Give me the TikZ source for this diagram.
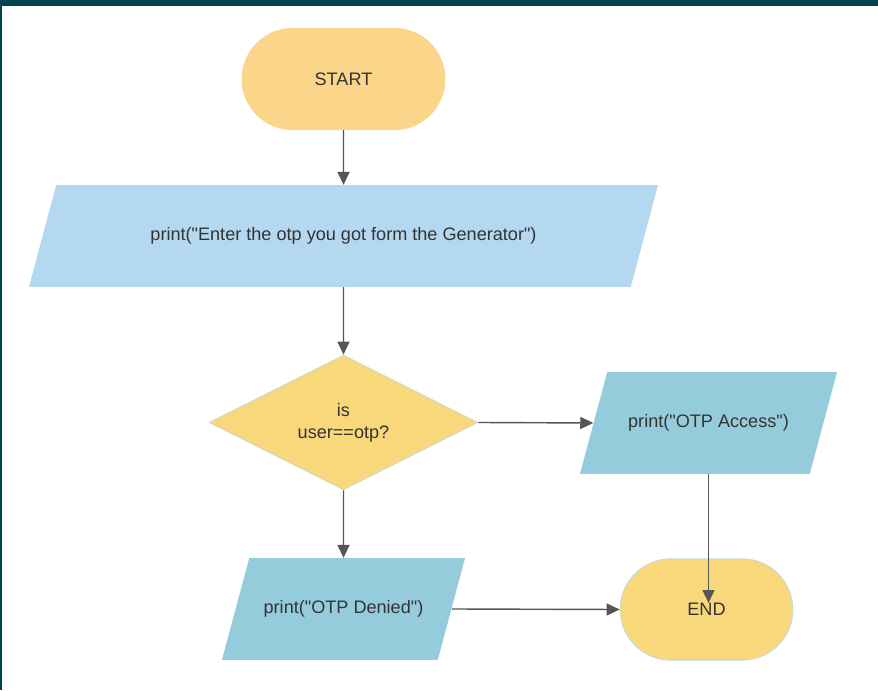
\documentclass[tikz,border=0pt]{standalone}
\usepackage{fontspec}
\setmainfont{Liberation Sans}
\usetikzlibrary{shapes.geometric, shapes.misc, arrows.meta}
\definecolor{frameteal}{HTML}{00444F}
\definecolor{startorange}{HTML}{FBD589}
\definecolor{endyellow}{HTML}{F9D87B}
\definecolor{paleblue}{HTML}{B4D8F0}
\definecolor{tealblue}{HTML}{95CCDB}
\definecolor{edgeblue}{HTML}{BCDDEA}
\definecolor{textgray}{HTML}{333333}
\definecolor{arrowgray}{HTML}{555555}

\begin{document}
\begin{tikzpicture}[
  every node/.style={text=textgray, font=\fontsize{10.3pt}{12.4pt}\selectfont, align=center},
  terminal/.style={rounded rectangle, fill=#1, draw=edgeblue, line width=0.4pt, minimum height=2.03cm, inner sep=0pt},
  iobox/.style={trapezium, trapezium left angle=75, trapezium right angle=105, trapezium stretches body=true, fill=#1, text height=8pt, text depth=2.5pt, inner xsep=0pt, inner ysep=23.65pt},
  decision/.style={diamond, fill=endyellow, draw=edgeblue, line width=0.4pt, minimum width=5.38cm, minimum height=2.70cm, inner sep=0pt},
  flow/.style={draw=arrowgray, line width=0.8pt, -{Triangle[length=0.26cm, width=0.24cm]}}
]
\useasboundingbox (0,0) rectangle (17.56,13.8);
\fill[white] (0,0) rectangle (17.56,13.8);
\fill[frameteal] (0,13.68) rectangle (17.56,13.8);
\fill[frameteal] (0,0) rectangle (0.045,13.8);

\node[terminal=startorange, draw=startorange, minimum width=4.06cm] (start) at (6.87,12.22) {START};
\node[iobox=paleblue, minimum width=12.58cm] (askotp) at (6.87,9.08) {print(\textquotedbl Enter the otp you got form the Generator\textquotedbl)};
\node[decision] (check) at (6.87,5.35) {is\\user==otp?};
\node[iobox=tealblue, minimum width=5.14cm] (access) at (14.17,5.34) {print(\textquotedbl OTP Access\textquotedbl)};
\node[iobox=tealblue, minimum width=4.86cm] (denied) at (6.87,1.62) {print(\textquotedbl OTP Denied\textquotedbl)};
\node[terminal=endyellow, minimum width=3.46cm] (end) at (14.13,1.61) {END};
\coordinate (endtip) at ([yshift=0.13cm]end.center);

\draw[flow] (start) -- (askotp);
\draw[flow] (askotp) -- (check);
\draw[flow] (check.east) -- (access.west);
\draw[flow] (check.south) -- (denied.north);
\draw[flow] (denied.east) -- (end.west);
\draw[flow] (access.center |- access.south) -- (access.center |- endtip);
\end{tikzpicture}
\end{document}
